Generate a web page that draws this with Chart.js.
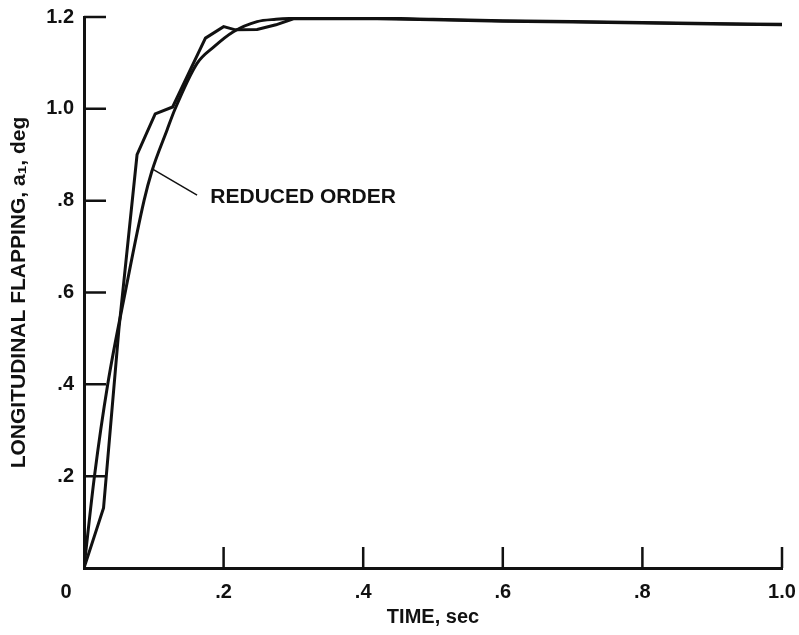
<!DOCTYPE html>
<html>
<head>
<meta charset="utf-8">
<script src="https://cdn.jsdelivr.net/npm/chart.js@4.4.1/dist/chart.umd.min.js"></script>
<style>
  body { margin: 0; background: #fff; }
  #c { display: block; }
</style>
</head>
<body>
<canvas id="c" width="799" height="635"></canvas>
<script>
// full model response (kinked curve)
const fullTime = [0, 0.028, 0.05, 0.076, 0.102, 0.127, 0.15, 0.174, 0.2, 0.217, 0.248, 0.275, 0.3, 0.4, 0.5, 0.6, 0.7, 0.8, 0.9, 1.0];
const fullFlap = [0, 0.131, 0.52, 0.90, 0.989, 1.004, 1.078, 1.154, 1.179, 1.172, 1.173, 1.183, 1.196, 1.197, 1.194, 1.191, 1.189, 1.187, 1.185, 1.183];

// reduced order response (smooth curve)
const reducedTime = [0, 0.015, 0.034, 0.059, 0.086, 0.097, 0.119, 0.13, 0.162, 0.186, 0.214, 0.248, 0.275, 0.3, 0.4, 0.5, 0.6, 0.7, 0.8, 0.9, 1.0];
const reducedFlap = [0, 0.2, 0.4, 0.6, 0.8, 0.863, 0.954, 0.998, 1.099, 1.135, 1.168, 1.19, 1.195, 1.197, 1.198, 1.195, 1.192, 1.19, 1.188, 1.186, 1.184];

// leader line of the "REDUCED ORDER" note, in data units
const leaderTime = [0.099, 0.162];
const leaderFlap = [0.868, 0.812];
const noteText = 'REDUCED ORDER';
const notePos = [0.181, 0.807];

const timeTicks = [0, 0.2, 0.4, 0.6, 0.8, 1.0];
const flapTicks = [0, 0.2, 0.4, 0.6, 0.8, 1.0, 1.2];

const INK = '#111';
const FONT = "'Liberation Sans', Arial, sans-serif";

function pts(xs, ys) {
    return xs.map((x, i) => ({ x: x, y: ys[i] }));
}

function fmt(v) {
    let s = Number(v).toFixed(1);
    if (s.startsWith('0.')) s = s.slice(1);
    return s;
}

// ticks drawn inside the frame, the "0" at the corner and the note text
const extras = {
    id: 'extras',
    afterDraw(chart) {
        const ctx = chart.ctx;
        const xs = chart.scales.x, ys = chart.scales.y;
        ctx.save();
        ctx.strokeStyle = INK;
        ctx.lineWidth = 2.5;
        ctx.beginPath();
        flapTicks.forEach(v => {
            if (v === 0) return;
            const py = ys.getPixelForValue(v);
            ctx.moveTo(xs.left, py);
            ctx.lineTo(xs.left + 22, py);
        });
        timeTicks.forEach(v => {
            if (v === 0) return;
            const px = xs.getPixelForValue(v);
            ctx.moveTo(px, ys.bottom);
            ctx.lineTo(px, ys.bottom - 21);
        });
        ctx.stroke();

        ctx.fillStyle = INK;
        ctx.font = 'bold 20px ' + FONT;
        ctx.textAlign = 'center';
        ctx.textBaseline = 'middle';
        ctx.fillText('0', xs.left - 18, ys.bottom + 24);

        ctx.font = 'bold 21px ' + FONT;
        ctx.textAlign = 'left';
        ctx.fillText(noteText, xs.getPixelForValue(notePos[0]), ys.getPixelForValue(notePos[1]));
        ctx.restore();
    }
};

new Chart(document.getElementById('c'), {
    type: 'line',
    data: {
        datasets: [
            {
                label: 'Full order',
                data: pts(fullTime, fullFlap),
                borderColor: INK,
                borderWidth: 3,
                pointRadius: 0,
                tension: 0
            },
            {
                label: 'Reduced order',
                data: pts(reducedTime, reducedFlap),
                borderColor: INK,
                borderWidth: 3,
                pointRadius: 0,
                cubicInterpolationMode: 'monotone'
            },
            {
                label: 'leader',
                data: pts(leaderTime, leaderFlap),
                borderColor: INK,
                borderWidth: 1.5,
                pointRadius: 0
            }
        ]
    },
    options: {
        responsive: false,
        animation: false,
        layout: { padding: { left: 0, right: 17, top: 17, bottom: 0 } },
        plugins: {
            legend: { display: false },
            tooltip: { enabled: false }
        },
        scales: {
            x: {
                type: 'linear',
                min: 0,
                max: 1,
                afterFit: s => {
                    s.height = 67;
                    s.paddingLeft = 0;
                    s.paddingRight = 0;
                },
                afterBuildTicks: s => { s.ticks = timeTicks.map(v => ({ value: v })); },
                grid: { display: false, drawTicks: false },
                border: { display: true, width: 3, color: INK },
                ticks: {
                    color: INK,
                    padding: 12,
                    font: { family: FONT, size: 20, weight: 'bold' },
                    callback: v => (v === 0 ? '' : fmt(v))
                },
                title: {
                    display: true,
                    text: 'TIME, sec',
                    color: INK,
                    font: { family: FONT, size: 20, weight: 'bold' },
                    padding: { top: 0, bottom: 6 }
                }
            },
            y: {
                type: 'linear',
                min: 0,
                max: 1.2,
                afterFit: s => {
                    s.width = 84;
                    s.paddingTop = 0;
                    s.paddingBottom = 0;
                },
                afterBuildTicks: s => { s.ticks = flapTicks.map(v => ({ value: v })); },
                grid: { display: false, drawTicks: false },
                border: { display: true, width: 3, color: INK },
                ticks: {
                    color: INK,
                    padding: 10,
                    font: { family: FONT, size: 20, weight: 'bold' },
                    callback: v => (v === 0 ? '' : fmt(v))
                },
                title: {
                    display: true,
                    text: 'LONGITUDINAL FLAPPING, a\u2081, deg',
                    color: INK,
                    font: { family: FONT, size: 21, weight: 'bold' },
                    padding: { top: 7, bottom: 0 }
                }
            }
        }
    },
    plugins: [extras]
});
</script>
</body>
</html>
